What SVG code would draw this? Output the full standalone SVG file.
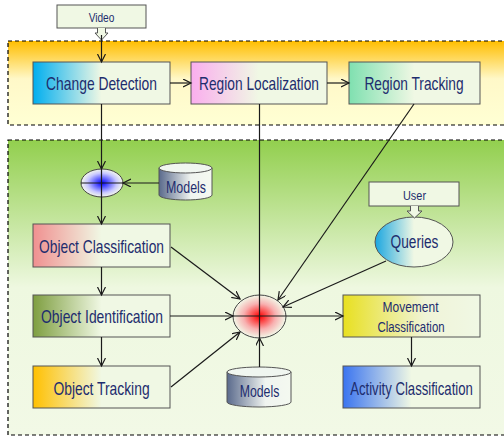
<svg xmlns="http://www.w3.org/2000/svg" width="504" height="437" viewBox="0 0 504 437">
<defs>
<linearGradient id="gOrange" x1="0" y1="0" x2="0" y2="1"><stop offset="0" stop-color="#FFBE00"/><stop offset="0.45" stop-color="#FFF8C8"/><stop offset="1" stop-color="#FFFFD4"/></linearGradient>
<linearGradient id="gGreen" x1="0" y1="0" x2="0" y2="1"><stop offset="0" stop-color="#92CF4E"/><stop offset="0.5" stop-color="#EEF8E0"/><stop offset="1" stop-color="#F2F9E6"/></linearGradient>
<linearGradient id="gCD" x1="0" y1="0" x2="1" y2="0"><stop offset="0" stop-color="#00AEEF"/><stop offset="0.5" stop-color="#F0F8E4"/></linearGradient>
<linearGradient id="gRL" x1="0" y1="0" x2="1" y2="0"><stop offset="0" stop-color="#FAAEEE"/><stop offset="0.5" stop-color="#F0F8E4"/></linearGradient>
<linearGradient id="gRT" x1="0" y1="0" x2="1" y2="0"><stop offset="0" stop-color="#7FE0B0"/><stop offset="0.5" stop-color="#F0F8E4"/></linearGradient>
<linearGradient id="gOC" x1="0" y1="0" x2="1" y2="0"><stop offset="0" stop-color="#F09090"/><stop offset="0.5" stop-color="#F0F8E4"/></linearGradient>
<linearGradient id="gOI" x1="0" y1="0" x2="1" y2="0"><stop offset="0" stop-color="#7E9E40"/><stop offset="0.5" stop-color="#F0F8E4"/></linearGradient>
<linearGradient id="gOT" x1="0" y1="0" x2="1" y2="0"><stop offset="0" stop-color="#FFC000"/><stop offset="0.5" stop-color="#F0F8E4"/></linearGradient>
<linearGradient id="gMC" x1="0" y1="0" x2="1" y2="0"><stop offset="0" stop-color="#E8E020"/><stop offset="0.6" stop-color="#F0F4D8"/><stop offset="1" stop-color="#F0F8E4"/></linearGradient>
<linearGradient id="gAC" x1="0" y1="0" x2="1" y2="0"><stop offset="0" stop-color="#3A74F0"/><stop offset="0.5" stop-color="#F0F8E4"/></linearGradient>
<linearGradient id="gQ" x1="0" y1="0" x2="1" y2="0"><stop offset="0" stop-color="#1AA6E0"/><stop offset="0.5" stop-color="#F0F8E4"/></linearGradient>
<linearGradient id="gCyl" x1="0" y1="0" x2="1" y2="0"><stop offset="0" stop-color="#5A6A8C"/><stop offset="0.6" stop-color="#F0F4F0"/><stop offset="1" stop-color="#F4F9F0"/></linearGradient>
<radialGradient id="gBlue"><stop offset="0" stop-color="#0000FF"/><stop offset="0.7" stop-color="#C8C8FF"/><stop offset="1" stop-color="#F4F8EC"/></radialGradient>
<radialGradient id="gRed"><stop offset="0" stop-color="#FF0000"/><stop offset="0.6" stop-color="#F8B0B0"/><stop offset="1" stop-color="#F2F8E8"/></radialGradient>
<marker id="arr" markerWidth="10" markerHeight="10" refX="8" refY="4" orient="auto" markerUnits="userSpaceOnUse"><path d="M0,0 L8,4 L0,8" fill="none" stroke="#1a1a1a" stroke-width="1.2"/></marker>
</defs>
<style>
.box{stroke:#555;stroke-width:1}
.lbl{font-family:"Liberation Sans",Arial,sans-serif;fill:#1E2D6E;text-anchor:middle}
.c{stroke:#1a1a1a;stroke-width:1.2;fill:none}
.ca{stroke:#1a1a1a;stroke-width:1.2;fill:none;marker-end:url(#arr)}
.region{stroke:#000;stroke-width:1.2;stroke-dasharray:4 3}
.cyl{fill:url(#gCyl);stroke:#555;stroke-width:1}
</style>
<rect width="504" height="437" fill="#fff"/>
<g id="regionA"><rect class="region" x="8" y="41" width="500" height="84" fill="url(#gOrange)"/></g>
<g id="regionB"><rect class="region" x="8" y="140" width="500" height="295" fill="url(#gGreen)"/></g>

<g id="video">
<rect class="box" x="57" y="5" width="89" height="23" fill="#F0F8E4"/>
<text class="lbl" transform="translate(101.5,22) scale(0.78,1)" font-size="13">Video</text>
</g>
<g id="user">
<rect class="box" x="369" y="182" width="90" height="24" fill="#F0F8E4"/>
<text class="lbl" transform="translate(414.5,200) scale(0.84,1)" font-size="13">User</text>
</g>
<g id="changeDetection">
<rect class="box" x="33" y="62" width="137" height="42" fill="url(#gCD)"/>
<text class="lbl" transform="translate(101.5,90) scale(0.77,1)" font-size="18">Change Detection</text>
</g>
<g id="regionLocalization">
<rect class="box" x="191" y="62" width="136" height="42" fill="url(#gRL)"/>
<text class="lbl" transform="translate(259,90) scale(0.764,1)" font-size="18">Region Localization</text>
</g>
<g id="regionTracking">
<rect class="box" x="349" y="62" width="131" height="42" fill="url(#gRT)"/>
<text class="lbl" transform="translate(414,90) scale(0.763,1)" font-size="18">Region Tracking</text>
</g>
<g id="fusion1">
<ellipse cx="102" cy="183" rx="21" ry="14" fill="url(#gBlue)" stroke="#444" stroke-width="1"/>
</g>
<g id="models1">
<path class="cyl" d="M159,168 L159,195 A26.5,5 0 0 0 212,195 L212,168"/>
<ellipse cx="185.5" cy="168" rx="26.5" ry="5" fill="#F0F6F0" stroke="#555" stroke-width="1"/>
<text class="lbl" transform="translate(186,193) scale(0.775,1)" font-size="16">Models</text>
</g>
<g id="objectClassification">
<rect class="box" x="33" y="224" width="137" height="43" fill="url(#gOC)"/>
<text class="lbl" transform="translate(101.5,253) scale(0.767,1)" font-size="18">Object Classification</text>
</g>
<g id="objectIdentification">
<rect class="box" x="33" y="295" width="137" height="42" fill="url(#gOI)"/>
<text class="lbl" transform="translate(102,323) scale(0.772,1)" font-size="18">Object Identification</text>
</g>
<g id="objectTracking">
<rect class="box" x="33" y="366" width="137" height="42" fill="url(#gOT)"/>
<text class="lbl" transform="translate(101.5,395) scale(0.77,1)" font-size="18">Object Tracking</text>
</g>
<g id="fusion2">
<ellipse cx="259.5" cy="316.5" rx="26.5" ry="21.5" fill="url(#gRed)" stroke="#444" stroke-width="1"/>
</g>
<g id="models2">
<path class="cyl" d="M227,372 L227,402 A32,5 0 0 0 291,402 L291,372"/>
<ellipse cx="259" cy="372" rx="32" ry="5" fill="#F0F6F0" stroke="#555" stroke-width="1"/>
<text class="lbl" transform="translate(259.5,397) scale(0.77,1)" font-size="16">Models</text>
</g>
<g id="queries">
<ellipse cx="414" cy="242" rx="39" ry="25" fill="url(#gQ)" stroke="#555" stroke-width="1"/>
<text class="lbl" transform="translate(414.5,248) scale(0.72,1)" font-size="19">Queries</text>
</g>
<g id="movementClassification">
<rect class="box" x="343" y="295" width="137" height="42" fill="url(#gMC)"/>
<text class="lbl" transform="translate(410.5,312) scale(0.8,1)" font-size="15">Movement</text>
<text class="lbl" transform="translate(411,332) scale(0.76,1)" font-size="15">Classification</text>
</g>
<g id="activityClassification">
<rect class="box" x="343" y="366" width="137" height="42" fill="url(#gAC)"/>
<text class="lbl" transform="translate(411.5,395) scale(0.73,1)" font-size="18">Activity Classification</text>
</g>

<g id="connectors">
<path d="M97.5,28 L97.5,33 L95,33 L101.5,40 L108,33 L105.5,33 L105.5,28" fill="#F0F8E4" stroke="#555" stroke-width="1"/>
<path d="M410.5,206 L410.5,211 L407,211 L414.5,218 L422,211 L418.5,211 L418.5,206" fill="#F0F8E4" stroke="#555" stroke-width="1"/>
<line class="ca" x1="101.5" y1="35" x2="101.5" y2="62"/>
<line class="ca" x1="170" y1="83" x2="191" y2="83"/>
<line class="ca" x1="327" y1="83" x2="349" y2="83"/>
<line class="ca" x1="101.5" y1="104" x2="101.5" y2="169"/>
<line class="ca" x1="101.5" y1="169" x2="101.5" y2="224"/>
<line class="c" x1="81" y1="183" x2="123" y2="183"/>
<line class="ca" x1="159" y1="183" x2="123" y2="183"/>
<line class="ca" x1="101.5" y1="267" x2="101.5" y2="295"/>
<line class="ca" x1="101.5" y1="337" x2="101.5" y2="366"/>
<line class="ca" x1="171" y1="247" x2="240" y2="299"/>
<line class="ca" x1="170" y1="316" x2="233" y2="316"/>
<line class="ca" x1="171" y1="387" x2="240" y2="332"/>
<line class="ca" x1="233" y1="316" x2="343" y2="316"/>
<line class="c" x1="259.5" y1="104" x2="259.5" y2="338"/>
<line class="ca" x1="259.5" y1="367" x2="259.5" y2="338"/>
<line class="ca" x1="414" y1="104" x2="278" y2="300"/>
<line class="ca" x1="386" y1="261" x2="283" y2="307"/>
<line class="ca" x1="411.5" y1="337" x2="411.5" y2="366"/>
</g>
</svg>
